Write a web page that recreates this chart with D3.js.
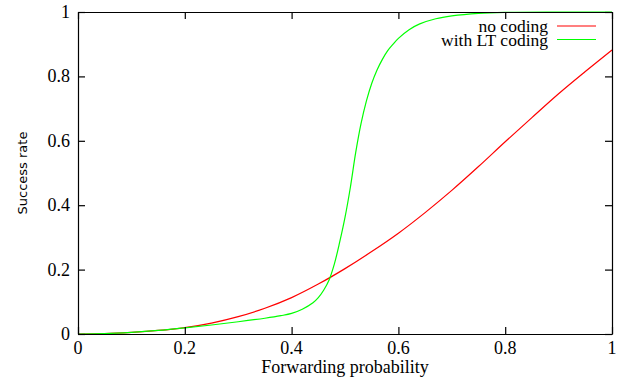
<!DOCTYPE html>
<html>
<head>
<meta charset="utf-8">
<script src="https://cdn.jsdelivr.net/npm/d3@7"></script>
<style>
  body { margin: 0; background: #fff; }
</style>
</head>
<body>
<div id="chart"></div>
<script>
// values
var noCodingX = [0, 0.05, 0.1, 0.15, 0.2, 0.25, 0.3, 0.35, 0.4, 0.45, 0.5, 0.55, 0.6, 0.65, 0.7, 0.75, 0.8, 0.85, 0.9, 0.95, 1];
var noCodingY = [0, 0.001, 0.005, 0.011, 0.02, 0.034, 0.054, 0.08, 0.113, 0.155, 0.203, 0.256, 0.313, 0.377, 0.446, 0.52, 0.597, 0.672, 0.746, 0.815, 0.882];

var ltX = [0, 0.05, 0.1, 0.15, 0.2, 0.25, 0.3, 0.35, 0.38, 0.4, 0.42, 0.44, 0.45, 0.46, 0.47, 0.48, 0.49, 0.5, 0.51, 0.52, 0.53, 0.54, 0.55, 0.56, 0.57, 0.58, 0.59, 0.6, 0.62, 0.64, 0.67, 0.7, 0.75, 0.8, 0.9, 1];
var ltY = [0, 0.001, 0.005, 0.011, 0.019, 0.028, 0.038, 0.049, 0.057, 0.064, 0.077, 0.097, 0.113, 0.136, 0.167, 0.217, 0.285, 0.362, 0.455, 0.563, 0.653, 0.723, 0.778, 0.82, 0.853, 0.88, 0.9, 0.918, 0.945, 0.963, 0.979, 0.988, 0.996, 0.999, 1, 1];

var xTicks = [0, 0.2, 0.4, 0.6, 0.8, 1];
var yTicks = [0, 0.2, 0.4, 0.6, 0.8, 1];
var seriesNames = ["no coding", "with LT coding"];
var seriesColors = ["#ff0000", "#00ff00"];

function draw(){
    var width = 629, height = 381;
    var mLeft = 78, mRight = 612, mTop = 12, mBottom = 334;
    var serif = "'Liberation Serif', 'Times New Roman', serif";
    var fs = "18px";

    var svg = d3.select("#chart")
                .append("svg")
                .attr("width", width)
                .attr("height", height);

    var x = d3.scaleLinear().domain([0, 1]).range([mLeft, mRight]);
    var y = d3.scaleLinear().domain([0, 1]).range([mBottom, mTop]);

    //curves
    var series = [
      noCodingX.map(function(d, i){ return [d, noCodingY[i]]; }),
      ltX.map(function(d, i){ return [d, ltY[i]]; })
    ];
    var line = d3.line()
                 .x(function(d){ return x(d[0]); })
                 .y(function(d){ return y(d[1]); })
                 .curve(d3.curveCatmullRom.alpha(0.5));

    svg.selectAll("path.curve")
       .data(series)
       .enter()
       .append("path")
       .attr("class", "curve")
       .attr("d", line)
       .attr("fill", "none")
       .attr("stroke", function(d, i){ return seriesColors[i]; })
       .attr("stroke-width", 1.2);

    //axes, ticks inward on all four sides
    var tk = 7;
    svg.append("g").attr("transform", "translate(0," + mBottom + ")")
       .call(d3.axisBottom(x).tickValues(xTicks).tickSizeInner(-tk).tickSizeOuter(0).tickFormat(""));
    svg.append("g").attr("transform", "translate(0," + mTop + ")")
       .call(d3.axisTop(x).tickValues(xTicks).tickSizeInner(-tk).tickSizeOuter(0).tickFormat(""));
    svg.append("g").attr("transform", "translate(" + mLeft + ",0)")
       .call(d3.axisLeft(y).tickValues(yTicks).tickSizeInner(-tk).tickSizeOuter(0).tickFormat(""));
    svg.append("g").attr("transform", "translate(" + mRight + ",0)")
       .call(d3.axisRight(y).tickValues(yTicks).tickSizeInner(-tk).tickSizeOuter(0).tickFormat(""));
    svg.selectAll(".domain, .tick line").attr("stroke", "#000").attr("stroke-width", 1.2);

    //tick labels
    svg.selectAll("text.xl")
       .data(xTicks)
       .enter()
       .append("text")
       .attr("class", "xl")
       .attr("x", function(d){ return x(d); })
       .attr("y", 354)
       .attr("text-anchor", "middle")
       .style("font-family", serif)
       .style("font-size", fs)
       .text(function(d){ return d3.format("")(d); });

    svg.selectAll("text.yl")
       .data(yTicks)
       .enter()
       .append("text")
       .attr("class", "yl")
       .attr("x", 70)
       .attr("y", function(d){ return y(d) + 6; })
       .attr("text-anchor", "end")
       .style("font-family", serif)
       .style("font-size", fs)
       .text(function(d){ return d3.format("")(d); });

    //axis titles
    svg.append("text")
       .attr("x", (mLeft + mRight) / 2)
       .attr("y", 373)
       .attr("text-anchor", "middle")
       .style("font-family", serif)
       .style("font-size", fs)
       .text("Forwarding probability");

    svg.append("text")
       .attr("transform", "translate(27," + ((mTop + mBottom) / 2) + ") rotate(-90)")
       .attr("text-anchor", "middle")
       .style("font-family", "'DejaVu Sans', sans-serif")
       .style("font-size", "13px")
       .text("Success rate");

    //legend
    var legend = svg.selectAll("g.legend")
                    .data(seriesNames)
                    .enter()
                    .append("g")
                    .attr("class", "legend")
                    .attr("transform", function(d, i){ return "translate(0," + (26 + i * 13.5) + ")"; });
    legend.append("text")
          .attr("x", 548)
          .attr("y", 6)
          .attr("text-anchor", "end")
          .style("font-family", serif)
          .style("font-size", "17.5px")
          .text(function(d){ return d; });
    legend.append("line")
          .attr("x1", 557).attr("x2", 596)
          .attr("y1", 0).attr("y2", 0)
          .attr("stroke", function(d, i){ return seriesColors[i]; })
          .attr("stroke-width", 1.2);
}
window.onload = draw;
</script>
</body>
</html>
